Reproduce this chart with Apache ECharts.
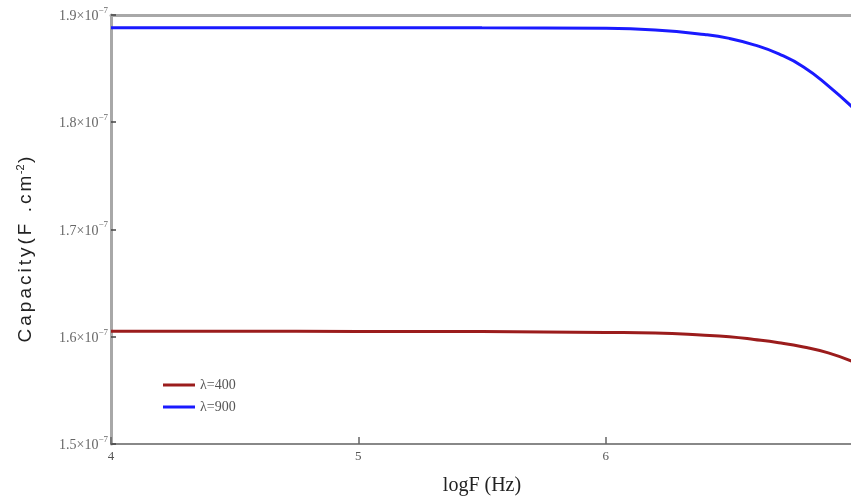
<!DOCTYPE html>
<html>
<head>
<meta charset="utf-8">
<script src="https://cdn.jsdelivr.net/npm/echarts@6/dist/echarts.min.js"></script>
<style>
  html, body { margin: 0; padding: 0; background: #fff; overflow: hidden; }
  #chart { width: 851px; height: 497px; }
</style>
</head>
<body>
<div id="chart"></div>
<script>
// Frequency axis (log10 of F in Hz)
const logF = [4, 4.5, 5, 5.5, 6, 6.2, 6.4, 6.5, 6.6, 6.7, 6.8, 6.9, 7.0];

// Capacity, in units of 1e-7 F.cm^-2
const cap400 = [1.6051, 1.6051, 1.6050, 1.6048, 1.6040, 1.6035, 1.6015, 1.6000, 1.5975, 1.5945, 1.5905, 1.5850, 1.5768];
const cap900 = [1.8882, 1.8882, 1.8882, 1.8880, 1.8876, 1.8860, 1.8818, 1.8782, 1.8722, 1.8637, 1.8516, 1.8340, 1.8135];

const seriesNames = ['\u03bb=400', '\u03bb=900'];
const seriesColors = ['#9b1c1c', '#1a1aff'];
const xTicks = [4, 5, 6, 7];
const yTicks = [1.5, 1.6, 1.7, 1.8, 1.9];
const expLabel = '\u22127';
const yTitle = 'Capacity(F .cm';

const chart = echarts.init(document.getElementById('chart'));

const serif = '"Liberation Serif", "DejaVu Serif", serif';
const sans = '"Liberation Sans", Arial, sans-serif';

// Spread the axis title letters a little apart
const yTitleRich = yTitle.split('').map(c => '{t|' + c + '}').join('') + '{s|-2}{t|)}';

chart.setOption({
  animation: false,
  grid: { left: 111, width: 742, top: 15, height: 429, outerBoundsMode: 'none', containLabel: false },
  legend: {
    orient: 'vertical',
    left: 158,
    top: 373,
    itemWidth: 32,
    itemHeight: 3,
    itemGap: 8,
    icon: 'rect',
    textStyle: { fontFamily: serif, fontSize: 14, color: '#555' },
    data: seriesNames
  },
  xAxis: [{
    type: 'value',
    min: xTicks[0],
    max: xTicks[xTicks.length - 1],
    interval: 1,
    axisLine: { lineStyle: { color: '#888', width: 2 } },
    axisTick: { inside: true, length: 7, lineStyle: { color: '#666', width: 1.5 } },
    axisLabel: {
      margin: 6, fontFamily: serif, fontSize: 13, color: '#555',
      formatter: v => (v === 7 ? '' : String(v))
    },
    splitLine: { show: false },
    name: 'logF (Hz)',
    nameLocation: 'middle',
    nameGap: 32,
    nameTextStyle: { fontFamily: serif, fontSize: 20, color: '#222' }
  }, {
    type: 'value',
    position: 'top',
    min: xTicks[0],
    max: xTicks[xTicks.length - 1],
    interval: 1,
    axisLine: { show: true, lineStyle: { color: '#a8a8a8', width: 3 } },
    axisTick: { show: false },
    axisLabel: { show: false },
    splitLine: { show: false }
  }],
  yAxis: {
    type: 'value',
    min: yTicks[0],
    max: yTicks[yTicks.length - 1],
    interval: 0.1,
    axisLine: { show: true, lineStyle: { color: '#a8a8a8', width: 3 } },
    axisTick: { show: true, inside: true, length: 5, lineStyle: { color: '#444', width: 1.5 } },
    axisLabel: {
      margin: 3,
      formatter: v => '{m|' + v.toFixed(1) + '\u00d710}{e|' + expLabel + '}',
      rich: {
        m: { fontFamily: serif, fontSize: 14, color: '#666', padding: [3, 0, 0, 0] },
        e: { fontFamily: serif, fontSize: 9, color: '#666', padding: [0, 0, 9, 0] }
      }
    },
    splitLine: { show: false },
    name: yTitleRich,
    nameLocation: 'middle',
    nameRotate: 90,
    nameGap: 74,
    nameTextStyle: {
      padding: [0, 40, 0, 0],
      rich: {
        t: { fontFamily: sans, fontSize: 19, color: '#222', padding: [0, 1.5, 0, 1.5] },
        s: { fontFamily: sans, fontSize: 11, color: '#222', padding: [0, 0, 11, 0] }
      }
    }
  },
  series: [
    {
      name: seriesNames[0],
      type: 'line',
      smooth: true,
      showSymbol: false,
      data: logF.map((x, i) => [x, cap400[i]]),
      lineStyle: { color: seriesColors[0], width: 3 },
      itemStyle: { color: seriesColors[0] }
    },
    {
      name: seriesNames[1],
      type: 'line',
      smooth: true,
      showSymbol: false,
      data: logF.map((x, i) => [x, cap900[i]]),
      lineStyle: { color: seriesColors[1], width: 3 },
      itemStyle: { color: seriesColors[1] }
    }
  ]
});
</script>
</body>
</html>
